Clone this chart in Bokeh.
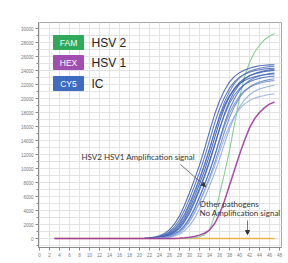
from bokeh.plotting import figure
from bokeh.embed import file_html
from bokeh.resources import INLINE
from bokeh.models import (SingleIntervalTicker, Label, Arrow, NormalHead,
                          BoxAnnotation, Range1d)

# ---------------- data ----------------
start_cycle = 3
cycles = list(range(20, 48))

# IC (CY5) curves, values for cycles 20..47
ic_curves = [
    [8, 31, 91, 200, 400, 730, 1240, 2080, 3230, 4740, 6530, 8450, 10480, 12790, 15270, 17670, 19640, 21170, 22340, 23160, 23690, 24080, 24320, 24520, 24670, 24760, 24810, 24830],
    [4, 17, 61, 144, 300, 569, 976, 1671, 2673, 4020, 5680, 7523, 9437, 11603, 13993, 16423, 18529, 20189, 21475, 22407, 23024, 23460, 23743, 23956, 24118, 24229, 24290, 24325],
    [3, 12, 44, 113, 240, 465, 818, 1395, 2276, 3475, 4993, 6731, 8566, 10573, 12825, 15175, 17328, 19066, 20412, 21416, 22101, 22566, 22884, 23104, 23276, 23398, 23472, 23511],
    [1, 8, 31, 90, 199, 398, 724, 1230, 2060, 3208, 4705, 6478, 8385, 10394, 12690, 15150, 17528, 19485, 21002, 22161, 22970, 23503, 23883, 24129, 24323, 24467, 24559, 24610],
    [0, 5, 20, 70, 160, 330, 620, 1050, 1800, 2850, 4250, 5950, 7800, 9700, 11900, 14300, 16700, 18700, 20250, 21450, 22300, 22850, 23250, 23500, 23700, 23850, 23950, 24000],
    [0, 4, 16, 58, 137, 286, 543, 932, 1595, 2552, 3838, 5423, 7183, 9010, 11078, 13359, 15679, 17690, 19275, 20503, 21392, 21982, 22398, 22668, 22871, 23026, 23132, 23190],
    [0, 3, 13, 45, 116, 247, 479, 842, 1437, 2344, 3580, 5143, 6932, 8823, 10890, 13209, 15629, 17848, 19637, 21024, 22057, 22763, 23242, 23570, 23797, 23973, 24099, 24175],
    [0, 1, 8, 28, 83, 183, 365, 665, 1130, 1893, 2948, 4322, 5952, 7703, 9549, 11658, 13918, 16103, 17902, 19295, 20360, 21103, 21593, 21942, 22168, 22346, 22478, 22563],
    [0, 0, 5, 20, 69, 158, 326, 612, 1037, 1778, 2814, 4197, 5876, 7703, 9579, 11751, 14121, 16491, 18466, 19997, 21182, 22021, 22564, 22959, 23206, 23404, 23552, 23651],
    [0, 0, 3, 15, 52, 127, 266, 508, 879, 1503, 2418, 3654, 5190, 6912, 8710, 10723, 12955, 15245, 17267, 18875, 20120, 21031, 21641, 22066, 22347, 22553, 22710, 22820],
    [0, 0, 1, 7, 28, 81, 178, 356, 647, 1100, 1843, 2869, 4208, 5793, 7498, 9295, 11348, 13548, 15675, 17426, 18783, 19818, 20543, 21019, 21358, 21578, 21753, 21881],
    [0, 0, 4, 17, 60, 138, 285, 535, 906, 1553, 2458, 3666, 5132, 6728, 8366, 10264, 12339, 14404, 16129, 17466, 18501, 19234, 19708, 20053, 20269, 20441, 20571, 20657],
]

# HSV 2 (FAM), cycles 20..47
hsv2 = [0, 0, 0, 0, 0, 0, 0, 0, 0, 10, 40, 100, 250, 550, 1200, 3200, 6300, 9300, 12600, 16300, 20100, 23100, 25100, 26600, 27600, 28400, 28900, 29300]
# HSV 1 (HEX), cycles 20..47
hsv1 = [0, 0, 0, 0, 0, 0, 0, 0, 40, 100, 180, 300, 480, 750, 1200, 2100, 3500, 5400, 7600, 9800, 12000, 14000, 15800, 17100, 18000, 18700, 19200, 19500]
# other pathogens: no amplification
other = [0] * len(cycles)

legend_tags = ["FAM", "HEX", "CY5"]
legend_names = ["HSV 2", "HSV 1", "IC"]
note_amp = "HSV2 HSV1 Amplification signal"
note_other = ["Other pathogens", "No Amplification signal"]

# ---------------- style ----------------
blue_shades = ["#3559ad", "#4466b8", "#3a60b4", "#5576c0", "#2f56ab", "#4a6cbb",
               "#3d63b6", "#6f8cca", "#4b6dbb", "#6584c6", "#8aa3d6", "#98afdc"]
GREEN = "#86cf96"
PURPLE = "#a2359f"
ORANGE = "#e8b24c"
tag_colors = ["#2eaa5a", "#a04fb0", "#3d6cc0"]

# pixel -> data helpers (frame geometry)
def X(px):
    return (px - 39) / 5.0

def Y(py):
    return (238 - py) * 2000 / 14.0

p = figure(width=288, height=263, output_backend="svg", toolbar_location=None,
           title=None,
           x_range=Range1d(X(38), X(281)), y_range=Range1d(Y(247), Y(22)),
           min_border_left=38, min_border_right=7, min_border_top=22,
           min_border_bottom=16)
p.background_fill_color = "white"
p.border_fill_color = "white"
p.outline_line_color = "#a8a8a8"
p.outline_line_width = 1

for ax, interval, nminor in ((p.xaxis[0], 2, 0), (p.yaxis[0], 2000, 2)):
    ax.ticker = SingleIntervalTicker(interval=interval, num_minor_ticks=nminor)
    ax.axis_line_color = "#8a8a8a"
    ax.major_tick_line_color = "#8a8a8a"
    ax.minor_tick_line_color = "#8a8a8a"
    ax.major_tick_in = 0
    ax.major_tick_out = 3
    ax.minor_tick_in = 0
    ax.minor_tick_out = 2
    ax.major_label_text_font_size = "4.5px"
    ax.major_label_text_color = "#777777"
    ax.major_label_text_font = "Liberation Sans"
    ax.major_label_standoff = 2

p.xgrid.ticker = SingleIntervalTicker(interval=2)
p.ygrid.ticker = SingleIntervalTicker(interval=2000, num_minor_ticks=2)
p.xgrid.grid_line_color = "#e3e3e3"
p.ygrid.grid_line_color = "#e3e3e3"
p.ygrid.minor_grid_line_color = "#e3e3e3"

xs = [start_cycle] + cycles

p.line(xs, [0] + other, line_color=ORANGE, line_width=1.6)
p.line(xs, [0] + hsv2, line_color=GREEN, line_width=1.1)
for vals, col in zip(ic_curves, blue_shades):
    p.line(xs, [0] + vals, line_color=col, line_width=1.1, line_alpha=0.85)
p.line(xs, [0] + hsv1, line_color=PURPLE, line_width=1.5, line_alpha=0.9)

# legend boxes
box_tops = [35, 55, 76]
for tag, name, col, top in zip(legend_tags, legend_names, tag_colors, box_tops):
    p.quad(left=X(53), right=X(83), top=Y(top), bottom=Y(top + 14),
           fill_color=col, line_color=col)
    p.add_layout(Label(x=X(68), y=Y(top + 7), text=tag, text_color="white",
                       text_font="Liberation Sans", text_font_size="8.5px",
                       text_align="center", text_baseline="middle"))
    p.add_layout(Label(x=X(91), y=Y(top + 7), text=name, text_color="#222222",
                       text_font="Liberation Sans", text_font_size="12px",
                       text_align="left", text_baseline="middle"))

p.add_layout(Label(x=X(81), y=Y(156), text=note_amp, text_color="#333333",
                   text_font="Lato", text_font_size="8px",
                   text_baseline="middle"))
p.add_layout(Label(x=X(199), y=Y(203), text=note_other[0], text_color="#333333",
                   text_font="Lato", text_font_size="8px",
                   text_baseline="middle"))
p.add_layout(Label(x=X(199), y=Y(212.5), text=note_other[1], text_color="#333333",
                   text_font="Lato", text_font_size="8px",
                   text_baseline="middle"))

p.add_layout(Arrow(end=NormalHead(size=4, fill_color="#333333", line_color="#333333"),
                   x_start=X(180), y_start=Y(164), x_end=X(205), y_end=Y(186),
                   line_color="#555555", line_width=0.8))
p.add_layout(Arrow(end=NormalHead(size=4, fill_color="#333333", line_color="#333333"),
                   x_start=X(247), y_start=Y(220), x_end=X(247), y_end=Y(234),
                   line_color="#555555", line_width=0.8))

# pink page frame
p.add_layout(BoxAnnotation(left=10, right=400, top=12, bottom=400,
                           left_units="canvas", right_units="canvas",
                           top_units="canvas", bottom_units="canvas",
                           fill_alpha=0, line_color="#f28cc0", line_width=1.5))

open("out.html", "w").write(file_html(p, INLINE))
